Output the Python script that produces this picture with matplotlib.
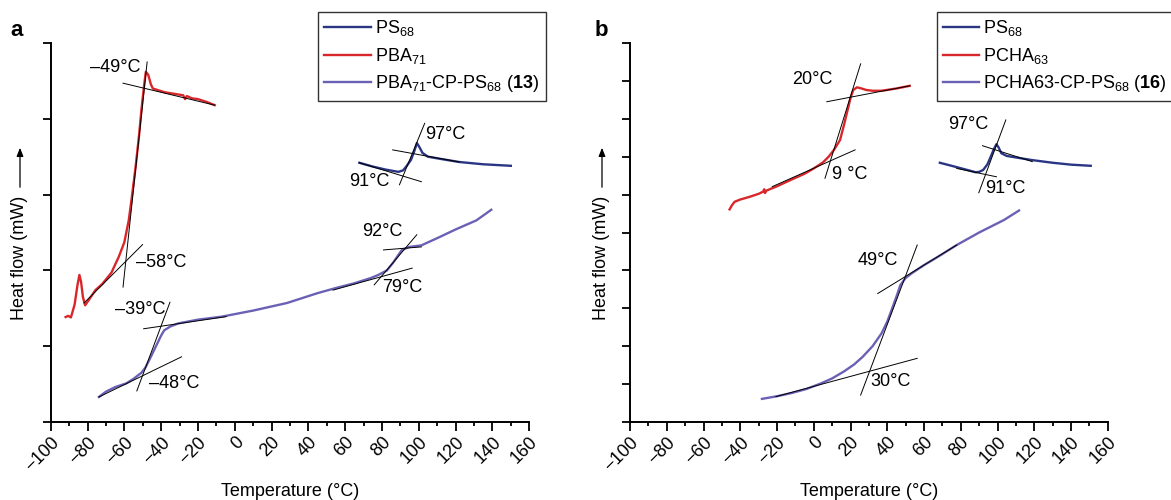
import numpy as np
import matplotlib
matplotlib.use("Agg")
from matplotlib import pyplot as plt
from matplotlib.ticker import MultipleLocator

plt.rcParams['font.family'] = ['Liberation Sans', 'DejaVu Sans']
plt.rcParams['mathtext.fontset'] = 'custom'
plt.rcParams['mathtext.rm'] = 'Liberation Sans'
plt.rcParams['mathtext.it'] = 'Liberation Sans:italic'
plt.rcParams['mathtext.bf'] = 'Liberation Sans:bold'

C_PS = '#2a3684'
C_RED = '#d9262b'
C_PUR = '#6a61b6'
FS = 13

# ---- panel a data (temperature degC, heat flow arbitrary) ----
a_ps_t = [67.7, 75, 82, 88.9, 91.5, 93.5, 95.8, 97.5, 99, 100.5, 102, 105, 112, 122, 135, 150]
a_ps_y = [3.42, 3.37, 3.33, 3.30, 3.32, 3.38, 3.46, 3.57, 3.68, 3.62, 3.55, 3.50, 3.47, 3.43, 3.40, 3.38]

a_pba_t = [-91.9, -90.5, -89, -87, -85.5, -84.4, -83.5, -82.5, -81.3, -79, -75.7, -72, -67, -63,
           -60, -57.6, -56, -53.9, -52, -50.7, -49.2, -48.3, -47, -45.5, -44.5, -42, -38, -33,
           -28, -27, -26, -23.3, -20, -15, -10.9]
a_pba_y = [1.385, 1.40, 1.38, 1.55, 1.80, 1.94, 1.85, 1.65, 1.54, 1.62, 1.74, 1.82, 1.97, 2.18,
           2.37, 2.66, 2.95, 3.36, 3.78, 4.12, 4.45, 4.62, 4.58, 4.45, 4.40, 4.38, 4.35, 4.33,
           4.31, 4.26, 4.30, 4.27, 4.26, 4.22, 4.18]

a_co_t = [-73.8, -70, -65, -58.9, -55, -50.7, -48.5, -46.4, -44, -42, -40, -38.3, -35, -30.8,
          -20, -7, 10, 28.4, 45, 55.3, 65, 74, 78, 82.7, 86, 90.8, 95, 101.4, 111.3, 120, 131.3, 139.4]
a_co_y = [0.33, 0.40, 0.46, 0.51, 0.57, 0.65, 0.72, 0.82, 0.94, 1.04, 1.14, 1.21, 1.26, 1.30,
          1.35, 1.39, 1.47, 1.57, 1.70, 1.77, 1.83, 1.90, 1.94, 2.00, 2.10, 2.27, 2.31, 2.33, 2.44,
          2.54, 2.66, 2.80]

# tangent lines: (t0, y0, t1, y1)
a_tangents = [
    (-60.7, 4.47, -10.9, 4.18), (-47.6, 4.75, -60.7, 1.78), (-81.9, 1.57, -50.1, 2.34),
    (85.8, 3.59, 122, 3.43), (103.2, 3.94, 89.5, 3.13), (67.7, 3.42, 101.4, 3.17),
    (-49.5, 1.23, -4.6, 1.39), (-35.2, 1.58, -53.2, 0.41), (-73.8, 0.33, -28.9, 0.86),
    (80.8, 2.27, 101.4, 2.31), (98.9, 2.47, 75.8, 1.81), (53.4, 1.74, 96.4, 2.03),
]
a_labels = [('\u201349°C', -65, 4.68), ('\u201358°C', -40, 2.10), ('97°C', 114.5, 3.79),
            ('91°C', 73.3, 3.17), ('\u201339°C', -51.4, 1.48), ('\u201348°C', -32.7, 0.51),
            ('92°C', 80.2, 2.51), ('79°C', 90.8, 1.78)]

# ---- panel b data ----
b_ps_t = [68.6, 75, 82, 88.1, 90, 92.2, 94.5, 96.3, 98, 99.4, 100.5, 102.1, 105, 110, 118.9, 130, 140, 150.7]
b_ps_y = [6.84, 6.76, 6.67, 6.59, 6.60, 6.65, 6.80, 7.0, 7.2, 7.33, 7.25, 7.09, 7.02, 6.98, 6.91, 6.84, 6.79, 6.76]

b_pcha_t = [-45.8, -44.5, -43.1, -40, -35, -30, -27.5, -27, -26.5, -26, -20, -12.4, -5, 0, 5, 8.1,
            11, 14.3, 16.5, 18.4, 20, 21.5, 23.5, 26, 28.6, 32, 36.9, 45, 52.2]
b_pcha_y = [5.61, 5.72, 5.81, 5.87, 5.94, 6.02, 6.08, 6.14, 6.04, 6.10, 6.22, 6.39, 6.55, 6.69, 6.85,
            7.0, 7.18, 7.44, 7.85, 8.23, 8.55, 8.76, 8.83, 8.80, 8.76, 8.74, 8.74, 8.80, 8.87]

b_co_t = [-28.2, -20, -12.4, -4, 4, 10, 16.3, 22, 26.6, 32, 36.9, 40, 43, 45.5, 47.1, 50, 53.2,
          60, 67.6, 77.8, 90, 103.5, 111.7]
b_co_y = [0.61, 0.68, 0.76, 0.87, 1.02, 1.15, 1.33, 1.52, 1.72, 2.0, 2.34, 2.65, 3.04, 3.38, 3.61,
          3.80, 3.92, 4.14, 4.36, 4.67, 5.0, 5.33, 5.58]

b_tangents = [
    (7.1, 8.45, 52.2, 8.87), (25.5, 9.45, 6.1, 6.43), (-22.6, 6.21, 22.5, 7.18),
    (104.5, 7.97, 89.8, 6.05), (91.8, 7.29, 118.9, 6.87), (77.8, 6.69, 99.4, 6.47),
    (34.8, 3.39, 77.8, 4.67), (56.3, 4.67, 25.5, 0.71), (-20.6, 0.67, 56.3, 1.68),
]
b_labels = [('20°C', -0.7, 9.05), ('9 °C', 19.4, 6.52), ('97°C', 84, 7.84), ('91°C', 104.5, 6.17),
            ('49°C', 34.8, 4.27), ('30°C', 41.5, 1.08)]

W, H = 1171, 500
fig = plt.figure(figsize=(W / 100, H / 100), dpi=100)


def style_axes(ax, ymax, ystep):
	ax.set_xlim(-100, 160)
	ax.set_ylim(0, ymax)
	for s in ('top', 'right'):
		ax.spines[s].set_visible(False)
	for s in ('left', 'bottom'):
		ax.spines[s].set_linewidth(1.4)
	ax.xaxis.set_major_locator(MultipleLocator(20))
	ax.xaxis.set_minor_locator(MultipleLocator(10))
	ax.yaxis.set_major_locator(MultipleLocator(ystep))
	ax.tick_params(axis='x', which='major', direction='out', length=6.5, width=1.3, labelsize=FS, pad=2)
	ax.tick_params(axis='x', which='minor', direction='out', length=3, width=1.3)
	ax.tick_params(axis='y', direction='out', length=6, width=1.3, labelleft=False)
	for lab in ax.get_xticklabels():
		lab.set_rotation(45)
		lab.set_ha('right')
		lab.set_rotation_mode('anchor')
	ax.set_xlabel('Temperature (°C)', fontsize=FS, labelpad=6)


def draw_panel(ax, series, tangents, labels, names, leg_x, hlen):
	for (t, y, c), name in zip(series, names):
		ax.plot(t, y, color=c, lw=1.7, label=name)
	for t0, y0, t1, y1 in tangents:
		ax.plot([t0, t1], [y0, y1], color='black', lw=0.7)
	for txt, t, y in labels:
		ax.text(t, y, txt, fontsize=FS, ha='center', va='center')
	leg = ax.legend(loc='upper left', bbox_to_anchor=(leg_x / W, 1 - 12 / H),
	                bbox_transform=fig.transFigure, fontsize=FS, frameon=True, fancybox=False,
	                handlelength=hlen, handletextpad=0.2, labelspacing=0.42, borderpad=0.35,
	                borderaxespad=0)
	leg.get_frame().set_edgecolor('black')
	leg.get_frame().set_linewidth(1.0)


axa = fig.add_axes([50.7 / W, 78 / H, 478.5 / W, 379 / H])
style_axes(axa, 5, 1)
draw_panel(axa,
           [(a_ps_t, a_ps_y, C_PS), (a_pba_t, a_pba_y, C_RED), (a_co_t, a_co_y, C_PUR)],
           a_tangents, a_labels,
           [r'PS$_{\mathregular{68}}$', r'PBA$_{\mathregular{71}}$',
            r'PBA$_{\mathregular{71}}$-CP-PS$_{\mathregular{68}}$ ($\mathbf{13}$)'], 318, 2.6)

axb = fig.add_axes([630 / W, 78 / H, 477.8 / W, 379 / H])
style_axes(axb, 10, 1)
draw_panel(axb,
           [(b_ps_t, b_ps_y, C_PS), (b_pcha_t, b_pcha_y, C_RED), (b_co_t, b_co_y, C_PUR)],
           b_tangents, b_labels,
           [r'PS$_{\mathregular{68}}$', r'PCHA$_{\mathregular{63}}$',
            r'PCHA63-CP-PS$_{\mathregular{68}}$ ($\mathbf{16}$)'], 937, 2.0)

# y labels with arrows, panel letters
for xpx, letter, lx in ((20, 'a', 17), (602, 'b', 601)):
	fig.text(xpx / W, 1 - 258 / H, 'Heat flow (mW)', rotation=90, ha='center', va='center', fontsize=FS)
	fig.add_artist(matplotlib.patches.FancyArrowPatch(
		(xpx / W, 1 - 190 / H), (xpx / W, 1 - 145 / H), transform=fig.transFigure,
		arrowstyle='-|>,head_length=5,head_width=2', lw=0.9, color='black'))
	fig.text(lx / W, 1 - 31 / H, letter, ha='center', va='center', fontsize=16, fontweight='bold')

fig.savefig('out.png', dpi=100)
